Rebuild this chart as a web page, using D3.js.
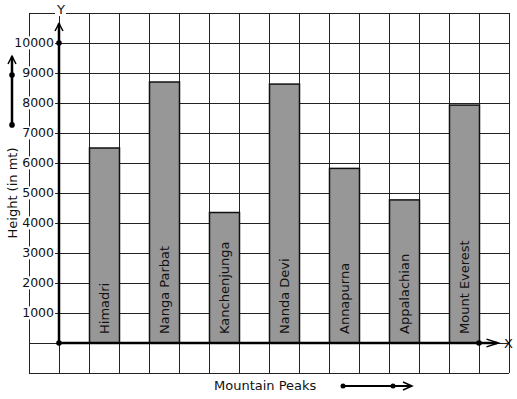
<!DOCTYPE html>
<html>
<head>
<meta charset="utf-8">
<script src="https://cdn.jsdelivr.net/npm/d3@7"></script>
<style>
  html, body { margin: 0; padding: 0; background: #fff; }
  svg text { font-family: "DejaVu Sans", sans-serif; fill: #111; }
</style>
</head>
<body>
<svg id="chart" width="517" height="399"></svg>
<script>
// ── Data ───────────────────────────────────────────────────────────────
const peaks   = ['Himadri', 'Nanga Parbat', 'Kanchenjunga', 'Nanda Devi', 'Annapurna', 'Appalachian', 'Mount Everest'];
const heights = [6500, 8700, 4350, 8630, 5820, 4770, 7930];
const yTicks  = [1000, 2000, 3000, 4000, 5000, 6000, 7000, 8000, 9000, 10000];

(function () {
  'use strict';

  const svg = d3.select('#chart');

  // graph-paper units: one square = 1 unit across, 1000 m up
  const x = d3.scaleLinear().domain([-1, 15]).range([29, 509]);
  const y = d3.scaleLinear().domain([-1000, 11000]).range([373, 13]);

  // ── Grid ──────────────────────────────────────────────────────────────
  const grid = svg.append('g').attr('stroke', '#222').attr('stroke-width', 1);
  d3.range(-1, 16).forEach(v => {
    grid.append('line')
      .attr('x1', x(v) + 0.5).attr('x2', x(v) + 0.5)
      .attr('y1', y(11000)).attr('y2', y(-1000));
  });
  d3.range(-1000, 11001, 1000).forEach(v => {
    grid.append('line')
      .attr('x1', x(-1)).attr('x2', x(15))
      .attr('y1', y(v) + 0.5).attr('y2', y(v) + 0.5);
  });

  // ── Bars ──────────────────────────────────────────────────────────────
  const bars = svg.append('g');
  peaks.forEach((name, i) => {
    const x0 = x(1 + 2 * i), x1 = x(2 + 2 * i);
    bars.append('rect')
      .attr('x', x0 + 0.5).attr('y', y(heights[i]))
      .attr('width', x1 - x0).attr('height', y(0) - y(heights[i]))
      .attr('fill', '#979797')
      .attr('stroke', '#111')
      .attr('stroke-width', 1.5);
    bars.append('text')
      .attr('transform', `translate(${(x0 + x1) / 2 + 5},${y(0) - 9}) rotate(-90)`)
      .attr('font-size', 13)
      .text(name);
  });

  // ── Y tick labels (white boxes knock out the grid) ───────────────────
  const labelWithBg = (sel) => {
    sel.each(function () {
      const b = this.getBBox();
      d3.select(this.parentNode).insert('rect', () => this)
        .attr('x', b.x - 1).attr('y', b.y + 1)
        .attr('width', b.width + 2).attr('height', b.height - 2)
        .attr('fill', '#fff');
    });
  };

  const ticks = svg.append('g');
  yTicks.forEach(v => {
    const g = ticks.append('g');
    g.append('text')
      .attr('x', x(0) - 5).attr('y', y(v))
      .attr('dy', '0.35em')
      .attr('text-anchor', 'end')
      .attr('font-size', 12.5)
      .text(v)
      .call(labelWithBg);
  });

  // ── Axes ──────────────────────────────────────────────────────────────
  const axes = svg.append('g').attr('stroke', '#000').attr('fill', 'none');
  axes.append('line')
    .attr('x1', x(0)).attr('x2', x(0))
    .attr('y1', y(0)).attr('y2', y(10650))
    .attr('stroke-width', 2.5);
  axes.append('path')
    .attr('d', `M${x(0) - 4},${y(10400)} L${x(0)},${y(10650)} L${x(0) + 4},${y(10400)}`)
    .attr('stroke-width', 1.5);
  axes.append('line')
    .attr('x1', x(0)).attr('x2', x(14.6))
    .attr('y1', y(0)).attr('y2', y(0))
    .attr('stroke-width', 2.5);
  axes.append('path')
    .attr('d', `M${x(14.25)},${y(-130)} L${x(14.65)},${y(0)} L${x(14.25)},${y(130)}`)
    .attr('stroke-width', 1.5);

  const dots = [[0, 0], [0, 10000], [14, 0]];
  dots.forEach(([dx, dy]) => {
    svg.append('circle').attr('cx', x(dx)).attr('cy', y(dy)).attr('r', 2.8).attr('fill', '#000');
  });

  // axis letters
  const yLbl = svg.append('g');
  yLbl.append('text')
    .attr('x', x(0) + 2).attr('y', 14)
    .attr('text-anchor', 'middle')
    .attr('font-size', 13)
    .text('Y')
    .call(labelWithBg);
  svg.append('text')
    .attr('x', x(14.7) + 4).attr('y', y(0) + 5)
    .attr('font-size', 13)
    .text('X');

  // ── Titles and their arrows ──────────────────────────────────────────
  svg.append('text')
    .attr('transform', `translate(17,${y(5000)}) rotate(-90)`)
    .attr('text-anchor', 'middle')
    .attr('font-size', 13)
    .text('Height (in mt)');

  svg.append('line')
    .attr('x1', 12).attr('x2', 12).attr('y1', y(7270)).attr('y2', y(9550))
    .attr('stroke', '#000').attr('stroke-width', 2.5);
  svg.append('path')
    .attr('d', `M8,${y(9300)} L12,${y(9560)} L16,${y(9300)}`)
    .attr('stroke', '#000').attr('stroke-width', 1.5).attr('fill', 'none');
  [7270, 8930].forEach(v => {
    svg.append('circle').attr('cx', 12).attr('cy', y(v)).attr('r', 2.8).attr('fill', '#000');
  });

  svg.append('text')
    .attr('x', 214).attr('y', 390)
    .attr('font-size', 13)
    .text('Mountain Peaks');

  svg.append('line')
    .attr('x1', 343).attr('x2', 411).attr('y1', 386).attr('y2', 386)
    .attr('stroke', '#000').attr('stroke-width', 2);
  svg.append('path')
    .attr('d', 'M403,382 L412,386 L403,390')
    .attr('stroke', '#000').attr('stroke-width', 1.5).attr('fill', 'none');
  [343, 393].forEach(cx => {
    svg.append('circle').attr('cx', cx).attr('cy', 386).attr('r', 2.5).attr('fill', '#000');
  });
})();
</script>
</body>
</html>
